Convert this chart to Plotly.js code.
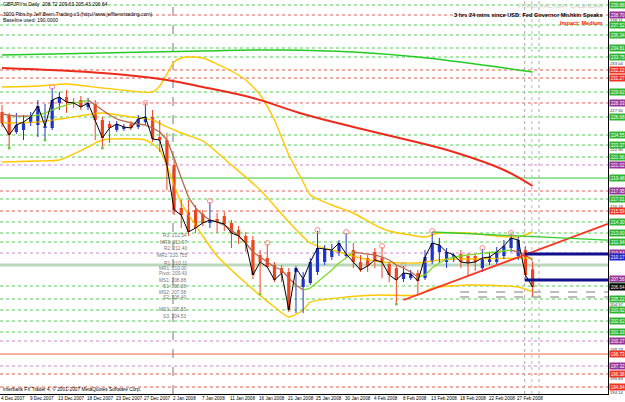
<!DOCTYPE html>
<html><head><meta charset="utf-8">
<script src="https://cdn.plot.ly/plotly-3.0.1.min.js"></script>
<style>html,body{margin:0;padding:0;background:#fff;}#chart{width:625px;height:402px;}</style>
</head><body><div id="chart"></div>
<script>
// ---------------- data ----------------
const dateLabels = ['4 Dec 2007','9 Dec 2007','13 Dec 2007','18 Dec 2007','23 Dec 2007','27 Dec 2007','2 Jan 2008','7 Jan 2008','11 Jan 2008','16 Jan 2008','21 Jan 2008','25 Jan 2008','30 Jan 2008','4 Feb 2008','8 Feb 2008','13 Feb 2008','18 Feb 2008','22 Feb 2008','27 Feb 2008'];
const openP  = [227.27,226.91,224.91,225.14,225.97,225.73,225.38,225.38,228.33,229.03,228.44,228.68,227.85,228.21,226.32,225.85,225.14,225.26,225.85,225.50,226.09,226.68,224.32,223.96,221.02,215.95,215.47,215.71,215.24,214.18,214.65,215.00,214.18,213.35,212.65,212.17,210.41,210.05,209.23,208.87,208.40,208.40,206.63,207.10,208.40,209.58,210.17,210.64,210.29,210.99,209.58,210.05,210.76,210.05,209.34,208.87,207.58,207.69,208.28,207.69,209.58,210.76,209.58,210.05,210.52,210.29,210.29,208.87,209.58,209.58,210.29,211.23,210.29,210.99,208.72];
const highP  = [228.09,227.15,227.15,226.91,227.27,228.68,228.21,230.09,229.62,229.86,228.92,229.15,228.92,228.68,226.68,226.20,226.20,225.85,226.20,226.91,228.21,227.50,226.32,224.79,221.61,216.89,216.89,216.30,215.71,216.65,215.36,215.47,214.53,213.82,213.12,212.65,210.99,211.70,209.58,209.23,208.87,209.11,208.40,210.05,213.24,211.58,211.70,212.17,213.00,211.82,210.41,210.41,211.23,211.35,209.58,209.23,209.11,208.64,208.64,210.99,213.12,212.41,211.23,210.64,210.99,210.64,210.52,211.11,210.76,211.35,212.17,212.88,212.53,211.47,209.63];
const lowP   = [225.50,223.14,224.67,223.96,225.61,224.32,224.08,225.14,227.50,227.15,227.74,227.50,227.50,223.96,223.14,223.61,224.91,225.03,225.14,225.26,225.73,223.73,222.55,218.07,215.12,213.59,212.65,213.00,213.82,213.59,213.00,213.24,211.23,211.70,210.76,207.58,205.93,208.87,207.22,207.22,203.69,203.57,203.57,206.87,208.05,209.23,209.82,210.29,210.05,208.87,208.40,208.40,208.87,207.69,207.22,204.75,207.22,207.46,205.81,207.46,209.34,209.46,208.87,209.58,208.87,207.93,208.52,208.40,209.23,209.34,209.93,210.76,209.82,207.69,205.43];
const closeP = [225.97,224.55,225.73,226.09,226.68,227.97,225.61,228.68,229.03,228.44,228.33,227.85,228.33,226.32,224.20,225.38,225.85,225.50,225.38,226.44,226.68,224.08,223.96,221.02,215.71,215.12,213.12,213.59,214.18,214.53,214.30,214.06,213.00,212.65,211.82,208.05,209.58,208.99,207.46,208.28,203.92,208.87,207.58,209.58,211.23,211.11,210.99,211.82,210.52,209.58,208.64,209.11,209.82,209.58,208.05,207.46,208.28,208.17,207.34,210.17,211.82,211.58,210.76,210.41,209.58,209.46,209.58,210.05,210.17,210.76,211.47,212.41,212.17,208.05,206.64];

// fast MA (green when rising, brown when falling)
const maFast = [227.03,226.91,226.79,226.79,226.79,226.91,227.15,227.50,227.85,228.09,228.33,228.44,228.68,228.09,227.50,226.91,226.44,226.20,225.97,225.85,225.73,225.38,224.91,223.96,221.84,219.48,217.24,215.95,215.12,214.53,214.30,213.94,213.35,212.65,211.82,210.76,210.17,209.58,208.99,208.64,207.69,206.87,206.28,206.51,207.22,207.93,208.64,209.46,210.05,210.76,210.64,210.52,210.41,210.17,209.82,209.23,208.87,208.40,207.81,208.05,208.87,209.46,209.93,210.17,210.29,210.41,210.52,210.64,210.70,210.76,210.88,210.99,210.76,210.41,209.82];

// slow moving averages (bar index, value)
const maGreenIdx = [0,14,28,39,49,58,66,74];
const maGreen    = [233.99,234.22,234.46,234.58,234.34,233.75,232.92,231.98];
const maRedIdx   = [0,14,23,28,35,42,49,56,63,70,74];
const maRed      = [232.45,231.86,231.04,230.21,228.92,227.03,225.50,224.08,222.55,220.43,218.54];

// Bollinger bands (bar index, value)
const bbUpIdx  = [0,5,9,14,18,21,22,23,24,25,26,28,30,32,34,36,38,40,42,43,46,49,52,54,57,59,61,65,69,72,74];
const bbUp     = [230.21,230.33,230.57,230.09,229.74,229.62,230.33,231.75,233.16,233.63,233.75,233.63,232.92,232.10,231.04,229.27,226.32,222.20,219.01,217.48,216.30,215.36,213.94,213.24,212.76,212.53,213.00,213.00,212.65,212.53,213.12];
const bbMidIdx = [0,5,9,14,18,21,23,25,28,32,36,40,43,47,50,53,58,61,74];
const bbMid    = [225.97,226.09,226.56,227.15,226.68,226.32,225.50,224.79,223.85,221.02,218.07,214.30,211.82,210.76,210.05,209.58,209.46,209.82,210.05];
const bbLowIdx = [0,5,8,12,14,20,22,25,28,30,34,38,40,42,43,48,53,58,60,65,72,74];
const bbLow    = [221.37,221.49,221.61,223.14,223.96,223.96,222.78,216.54,212.65,210.29,207.10,204.27,203.10,203.92,204.86,205.45,205.69,205.69,206.51,206.87,206.63,206.04];

// fractal bars
const fractalUp = [7,20,29,37,44,48,53,56,60,67,71];
const fractalDn = [1,6,14,36,55];

// horizontal levels: price and kind
const levelPrices = [239.88,238.70,237.52,236.34,234.81,233.75,232.22,231.27,229.62,228.33,226.68,224.55,223.37,221.96,221.02,219.48,217.95,217.01,215.59,214.30,213.00,211.94,210.64,206.75,205.22,203.92,202.62,201.33,200.27,198.73,197.32,196.38,194.84];
const levelKinds  = ['g','m','g','g','g','g','r','r','g','m','g','g','g','g','p','G','m','g','r','g','g','g','p','g','g','g','g','g','p','O','p','r','r'];
const scalePrices = [238.11,233.04,227.50,222.90,216.18,204.57,199.23,195.83,194.14];
const supportBand = 209.23;
const yesterdayHiLo = [210.52,207.46];
const greyLevels = [206.04,205.45];
const trendRedIdx = [56,84.5],  trendRed = [205.10,214.08];
const trendGrnIdx = [60,84.5],  trendGrn = [213.12,212.17];
const pivotText = ['R3: 212.54','MR3: 211.97','R2: 211.40','MR2: 210.755','R1: 210.11','MR1: 210.00','Pivot: 209.43','MS1: 208.88','S1: 208.28','MS2: 207.58','S2: 206.40','MS3: 205.55','S3: 204.53'];
const pivotPos  = [212.65,211.94,211.23,210.29,209.46,208.87,208.17,207.46,206.75,206.04,205.34,204.04,203.10];

// ---------------- drawing ----------------
const PX = 7.17, X0 = 2; // bar spacing (pixels) and first-bar pixel, used for the x range
const PLOT_W = 608;
const xr = [-X0/PX, (PLOT_W - X0)/PX];
const yr = [194.02, 240.47];
const UPC = '#1f35c8', DNC = '#f0441e';
const idx = closeP.map((_, i) => i);
const up = idx.filter(i => closeP[i] >= openP[i]);
const dn = idx.filter(i => closeP[i] < openP[i]);
function wick(list){const x=[],y=[];list.forEach(i=>{x.push(i,i,null);y.push(lowP[i],highP[i],null);});return {x,y};}
const traces = [];
const lineOf = (x,y,color,width,extra) => Object.assign({type:'scatter',mode:'lines',x,y,line:Object.assign({color,width},extra||{}),hoverinfo:'skip',showlegend:false});

traces.push(lineOf(bbUpIdx,bbUp,'#ffc800',1.4,{shape:'spline',smoothing:0.6}));
traces.push(lineOf(bbMidIdx,bbMid,'#ffc800',1.4,{shape:'spline',smoothing:0.6}));
traces.push(lineOf(bbLowIdx,bbLow,'#ffc800',1.4,{shape:'spline',smoothing:0.6}));
traces.push(lineOf(maGreenIdx,maGreen,'#22cc22',1.5,{shape:'spline'}));
traces.push(lineOf(maRedIdx,maRed,'#ee2a1a',2,{shape:'spline'}));

const wu = wick(up), wd = wick(dn);
traces.push(lineOf(wu.x,wu.y,UPC,1));
traces.push(lineOf(wd.x,wd.y,DNC,1));
function body(list,color){return {type:'bar',x:list,base:list.map(i=>Math.min(openP[i],closeP[i])),y:list.map(i=>Math.max(Math.abs(closeP[i]-openP[i]),0.06)),width:0.45,marker:{color,line:{width:0}},hoverinfo:'skip',showlegend:false};}
traces.push(body(up,UPC));
traces.push(body(dn,DNC));

const gx=[],gy=[],bx=[],by=[];
for(let i=1;i<maFast.length;i++){
  const r = maFast[i]>maFast[i-1];
  (r?gx:bx).push(i-1,i,null); (r?gy:by).push(maFast[i-1],maFast[i],null);
}
traces.push(lineOf(bx,by,'#b8674a',1.3));
traces.push(lineOf(gx,gy,'#77dd22',1.3));
traces.push(lineOf(idx,closeP,'#000000',1));

traces.push(lineOf(trendRedIdx,trendRed,'#ff3322',1.8));
traces.push(lineOf(trendGrnIdx,trendGrn,'#33cc33',1.3));
yesterdayHiLo.forEach(p=>traces.push(lineOf([72.9,xr[1]],[p,p],'#10108c',3)));
greyLevels.forEach(p=>traces.push(lineOf([63.9,xr[1]],[p,p],'#a8a8a8',1.5,{dash:'dash'})));

traces.push({type:'scatter',mode:'markers',x:fractalUp,y:fractalUp.map(i=>highP[i]+0.12),marker:{symbol:'circle-open',size:5,color:'#ff8a8a',line:{width:1}},hoverinfo:'skip',showlegend:false});
traces.push({type:'scatter',mode:'markers',x:fractalDn,y:fractalDn.map(i=>lowP[i]-0.12),marker:{symbol:'circle',size:3,color:'#66cc44'},hoverinfo:'skip',showlegend:false});

const KIND = {
  g:{line:'#55cc55',lab:'#2fb52f',dash:'dot'},
  m:{line:'#e06060',lab:'#993399',dash:'dot'},
  r:{line:'#e05a4a',lab:'#ee3322',dash:'dot'},
  p:{line:'#cc88cc',lab:'#993399',dash:'dot'},
  G:{line:'#33cc33',lab:'#2fb52f',dash:'solid'},
  O:{line:'#ff6644',lab:'#ee3322',dash:'solid'}
};
const shapes = [];
const ann = [];
levelPrices.forEach((p,k)=>{
  const s = KIND[levelKinds[k]];
  shapes.push({type:'line',xref:'paper',x0:0,x1:1,yref:'y',y0:p,y1:p,line:{color:s.line,width:1,dash:s.dash},layer:'below'});
});
shapes.push({type:'line',xref:'paper',x0:0,x1:1,yref:'y',y0:supportBand,y1:supportBand,line:{color:'#bcd8bc',width:3},layer:'below'});
[[23.85,'#777','dash'],[72.9,'#aaa','dot'],[73.9,'#bbb','dot'],[74.9,'#aaa','dot']].forEach(v=>{
  shapes.push({type:'line',xref:'x',x0:v[0],x1:v[0],yref:'paper',y0:0,y1:1,line:{color:v[1],width:1,dash:v[2]},layer:'below'});
});

const F = 'Liberation Sans, Arial, sans-serif';
function boxLabel(p,bg,fg){
  ann.push({xref:'paper',x:1,xanchor:'left',xshift:1,yref:'y',y:p,yanchor:'middle',text:p.toFixed(2),showarrow:false,
    font:{family:F,size:4.5,color:fg||'#fff'},bgcolor:bg,borderpad:0,width:16,height:6});
}
scalePrices.forEach(p=>ann.push({xref:'paper',x:1,xanchor:'left',xshift:1,yref:'y',y:p,yanchor:'middle',text:p.toFixed(2),showarrow:false,borderpad:0,font:{family:F,size:4.2,color:'#333'}}));
levelPrices.forEach((p,k)=>boxLabel(p,KIND[levelKinds[k]].lab));
boxLabel(yesterdayHiLo[0]-0.35,'#2222cc');
boxLabel(yesterdayHiLo[1]+0.1,'#993399');
boxLabel(closeP[closeP.length-1],'#000000');

dateLabels.forEach((t,k)=>ann.push({xref:'x',x:4*k,xanchor:'left',xshift:-2,yref:'paper',y:0,yanchor:'top',yshift:-1,text:t,showarrow:false,borderpad:0,font:{family:F,size:4.6,color:'#000'}}));

pivotText.forEach((t,k)=>ann.push({xref:'x',x:25.9,xanchor:'right',yref:'y',y:pivotPos[k],yanchor:'middle',text:t,showarrow:false,font:{family:F,size:4.8,color:'#777'},borderpad:0}));

const H = 394;
function txt(t,xpx,ypx,anchor,opts){ann.push(Object.assign({xref:'paper',x:xpx/PLOT_W,xanchor:anchor,yref:'paper',y:1-ypx/H,yanchor:'middle',text:t,showarrow:false,borderpad:0,font:Object.assign({family:F,size:5.5,color:'#000'},opts||{})}));}
txt('GBPJPYm,Daily  208.72 209.63 205.43 206.64',2,4,'left',{size:5});
txt('3000 Pibs by Jeff Benn Trading v3 (http://www.jeffbenntrading.com)',2,14,'left',{size:5});
txt('Baseline used: 190.0000',2,20,'left',{size:5});
txt('FOREX FACTORY CALENDAR',604,6,'right',{color:'#c8c8c8',size:6});
txt('<b>3 hrs 24 mins since USD: Fed Governor Mishkin Speaks</b>',604,15.5,'right',{size:5.6});
txt('<b>Impact: Medium</b>',604,23,'right',{size:5.6,color:'#ff2200'});
txt('Interbank FX Trader 4, © 2001-2007 MetaQuotes Software Corp.',2,389,'left',{size:4.8});

const layout = {
  width:625,height:402,margin:{l:0,r:17,t:0,b:8},paper_bgcolor:'#fff',plot_bgcolor:'#fff',
  showlegend:false,barmode:'overlay',
  xaxis:{range:xr,showgrid:false,zeroline:false,showticklabels:false,ticks:'',showline:true,linecolor:'#000',linewidth:1,fixedrange:true},
  yaxis:{range:yr,side:'right',showgrid:false,zeroline:false,showticklabels:false,ticks:'',showline:true,linecolor:'#000',linewidth:1,fixedrange:true},
  shapes,annotations:ann
};
Plotly.newPlot('chart',traces,layout,{displayModeBar:false,staticPlot:true});
</script>
</body></html>
